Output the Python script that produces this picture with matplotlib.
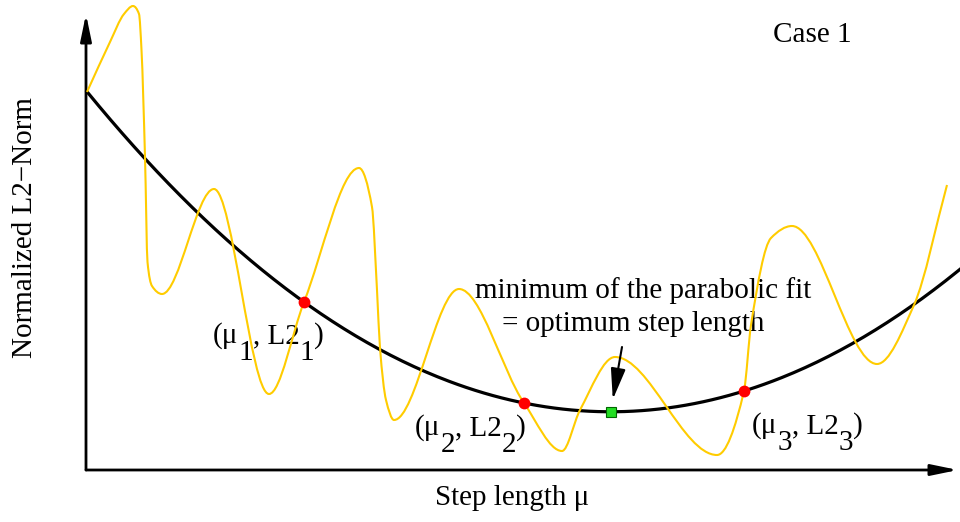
import numpy as np
import matplotlib
matplotlib.use("Agg")
import matplotlib.pyplot as plt
from matplotlib.path import Path
from matplotlib.patches import PathPatch
from matplotlib import transforms

plt.rcParams["font.family"] = ["Liberation Serif", "DejaVu Serif"]

# misfit curve along the search direction (step length mu, normalized L2):
# turning points plus a few points on the steep flanks
wiggle_mu = [0.00, 0.23, 0.37, 0.46, 0.52, 0.545, 0.58, 0.605, 0.65, 0.75,
             1.27, 1.82, 2.17, 2.72, 2.85, 2.90, 2.93, 2.99, 3.07,
             3.72, 4.37, 4.75, 4.93, 5.28, 6.30, 6.57, 6.64, 6.84, 7.05,
             7.90, 8.27, 8.60]
wiggle_l2 = [3.78, 4.28, 4.56, 4.64, 4.56, 4.20, 3.13, 2.08, 1.84, 1.76,
             2.81, 0.76, 1.68, 3.02, 2.63, 1.80, 1.22, 0.70, 0.50,
             1.81, 0.67, 0.19, 0.60, 1.13, 0.15, 0.79, 1.45, 2.32, 2.44,
             1.06, 1.65, 2.85]

# the three trial steps used for the parabola
sample_mu = [2.17, 4.37, 6.57]
sample_l2 = [1.68, 0.67, 0.79]
sample_sub = ["1", "2", "3"]

FS = 21


def pchip_slopes(x, y):
    h = np.diff(x)
    d = np.diff(y) / h
    m = np.zeros_like(y)
    m[0], m[-1] = d[0], d[-1]
    for k in range(1, len(x) - 1):
        if d[k - 1] * d[k] <= 0:
            m[k] = 0.0
        else:
            w1 = 2 * h[k] + h[k - 1]
            w2 = h[k] + 2 * h[k - 1]
            m[k] = (w1 + w2) / (w1 / d[k - 1] + w2 / d[k])
    return m


def smooth_path(x, y):
    # monotone cubic through the knots, drawn as Bezier segments
    x = np.asarray(x, float)
    y = np.asarray(y, float)
    m = pchip_slopes(x, y)
    verts = [(x[0], y[0])]
    codes = [Path.MOVETO]
    for k in range(len(x) - 1):
        h = x[k + 1] - x[k]
        verts += [(x[k] + h / 3, y[k] + m[k] * h / 3),
                  (x[k + 1] - h / 3, y[k + 1] - m[k + 1] * h / 3),
                  (x[k + 1], y[k + 1])]
        codes += [Path.CURVE4] * 3
    return Path(verts, codes)


fig = plt.figure(figsize=(9.6, 5.22), dpi=100)
ax = fig.add_axes([0, 0, 1, 1])
ax.set_xlim(-0.87, 8.73)
ax.set_ylim(-0.52, 4.70)
ax.axis("off")

# axes with arrow heads
head = dict(arrowstyle="-|>,head_length=1.6,head_width=0.33", color="black",
            lw=2.0, mutation_scale=10, shrinkA=0, shrinkB=0)
ax.annotate("", xy=(-0.01, 4.56), xytext=(-0.01, 0.0), arrowprops=head)
ax.annotate("", xy=(8.71, 0.0), xytext=(-0.01, 0.0), arrowprops=head)

# parabolic fit through the three samples
coef = np.polyfit(sample_mu, sample_l2, 2)
mu_fit = np.linspace(0.0, 8.73, 300)
ax.plot(mu_fit, np.polyval(coef, mu_fit), color="black", lw=2.3, zorder=3)

ax.add_patch(PathPatch(smooth_path(wiggle_mu, wiggle_l2), facecolor="none",
                       edgecolor="#FFCC00", lw=1.5, zorder=4))

ax.plot(sample_mu, sample_l2, "o", color="#FF0000", ms=8.5, mec="none", zorder=5)

mu_opt = -coef[1] / (2 * coef[0])
l2_opt = np.polyval(coef, mu_opt)
ax.plot([mu_opt], [l2_opt], "s", color="#22DD22", mec="#006600", mew=0.8, ms=6.5, zorder=6)

ax.annotate("", xy=(mu_opt, l2_opt), xytext=(5.35, 1.23),
            arrowprops=dict(arrowstyle="-|>,head_length=1.9,head_width=0.45", color="black",
                            lw=1.5, mutation_scale=10, shrinkA=0, shrinkB=9), zorder=6)

ax.text(5.56, 1.72, "minimum of the parabolic fit", fontsize=FS, ha="center", va="baseline")
ax.text(5.46, 1.39, "= optimum step length", fontsize=FS, ha="center", va="baseline")

ax.text(7.25, 4.28, "Case 1", fontsize=FS, ha="center", va="baseline")
ax.text(-0.62, 2.42, "Normalized L2\u2212Norm", fontsize=FS, rotation=90,
        ha="center", va="center")
ax.text(4.25, -0.35, "Step length \u03bc", fontsize=FS, ha="center", va="baseline")

# point labels with lowered index digits
renderer = fig.canvas.get_renderer()


def point_label(x, y, sub):
    parts = [("(\u03bc", False), (sub, True), (", L2", False), (sub, True), (")", False)]
    dx = 0.0
    for s, low in parts:
        tr = transforms.offset_copy(ax.transData, fig=fig, x=dx, y=-17 if low else 0,
                                    units="dots")
        t = ax.text(x, y, s, transform=tr, fontsize=FS, ha="left", va="baseline")
        dx += t.get_window_extent(renderer).width


label_pos = [(1.26, 1.27), (3.28, 0.35), (6.65, 0.37)]
for (lx, ly), sub in zip(label_pos, sample_sub):
    point_label(lx, ly, sub)

fig.savefig("out.png", dpi=100)
